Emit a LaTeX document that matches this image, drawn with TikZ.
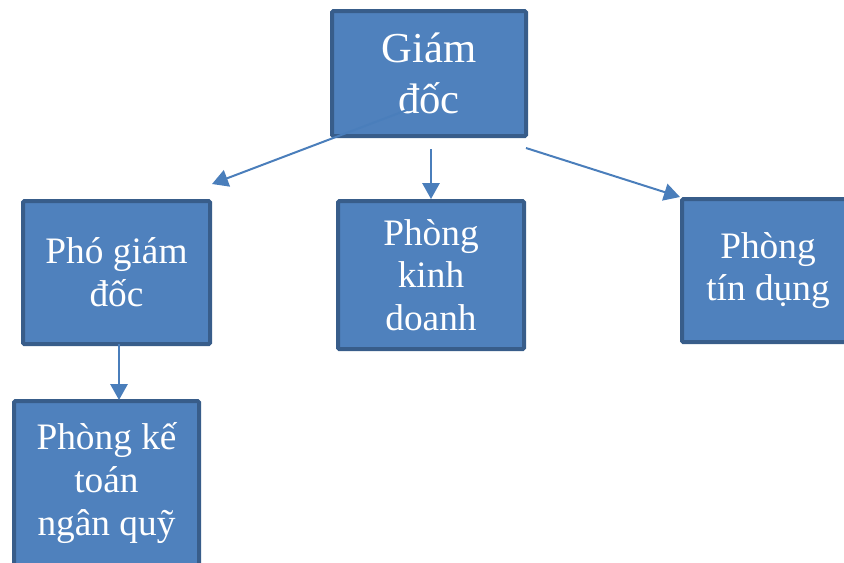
\documentclass[tikz,border=0pt]{standalone}
\usepackage{fontspec}
\setmainfont{Liberation Serif}
\usetikzlibrary{arrows.meta}
\definecolor{boxfill}{HTML}{4F81BD}
\definecolor{boxline}{HTML}{385D8A}
\definecolor{arrowc}{HTML}{4A7EBB}
\tikzset{
  orgbox/.style={draw=boxline, fill=boxfill, line width=3pt, rounded corners=1pt,
    text=white, align=center, inner sep=0pt,
    font=\fontsize{28pt}{32pt}\selectfont},
  conn/.style={draw=arrowc, line width=1.5pt, -{Triangle[length=12pt,width=13pt]}}
}
\begin{document}
\begin{tikzpicture}[x=0.75pt,y=-0.75pt]
\useasboundingbox (0,0) rectangle (844,562);
\clip (0,0) rectangle (844,562);
\node[orgbox, minimum width=145.5pt, minimum height=93.75pt,
  font=\fontsize{32pt}{38pt}\selectfont] (gd) at (429,73.5) {Giám\\đốc};
\node[orgbox, minimum width=140.25pt, minimum height=107.25pt] (pgd) at (116.5,272.5) {Phó giám\\đốc};
\node[orgbox, minimum width=139.5pt, minimum height=111pt] (pkd) at (431,275) {Phòng\\kinh\\doanh};
\node[orgbox, minimum width=129pt, minimum height=107.25pt] (ptd) at (768,270.5) {Phòng\\tín dụng};
\node[orgbox, minimum width=138.75pt, minimum height=123pt] (pkt) at (106.5,483) {Phòng kế\\toán\\ngân quỹ};
\coordinate (s1) at (407,110);
\coordinate (t1) at (212,184);
\coordinate (s2) at (431,149);
\coordinate (t2) at (431,199);
\coordinate (s3) at (526,148);
\coordinate (t3) at (680,197);
\coordinate (s4) at (119,344);
\coordinate (t4) at (119,400);
\draw[conn] (s1) -- (t1);
\draw[conn] (s2) -- (t2);
\draw[conn] (s3) -- (t3);
\draw[conn] (s4) -- (t4);
\end{tikzpicture}
\end{document}
